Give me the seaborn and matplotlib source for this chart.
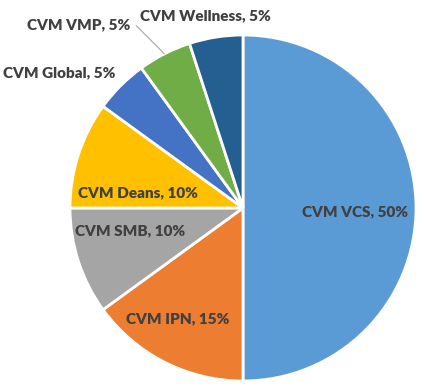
import numpy as np
import seaborn as sns
import matplotlib.pyplot as plt

# slice data, clockwise from 12 o'clock
groups = ['CVM VCS', 'CVM IPN', 'CVM SMB', 'CVM Deans', 'CVM Global', 'CVM VMP', 'CVM Wellness']
shares = [50, 15, 10, 10, 5, 5, 5]
colors = ['#5B9BD5', '#ED7D31', '#A5A5A5', '#FFC000', '#4472C4', '#70AD47', '#255E91']

# where each label sits (axes data units, pie radius = 1)
label_pos = [(0.65, -0.02), (-0.38, -0.64), (-0.65, -0.13), (-0.61, 0.09),
             (-1.06, 0.78), (-0.95, 1.06), (-0.22, 1.11)]

sns.set_theme(style='white')
plt.rcParams['font.family'] = ['Lato', 'DejaVu Sans']

fig = plt.figure(figsize=(4.24, 3.9), dpi=100)
ax = fig.add_axes([70 / 424, 9 / 390, 346 / 424, 346 / 390])

wedges, _ = ax.pie(shares, colors=colors, startangle=90, counterclock=False,
                   radius=1, wedgeprops=dict(edgecolor='white', linewidth=2))

for w, g, s, (lx, ly) in zip(wedges, groups, shares, label_pos):
    txt = f'{g}, {s}%'
    if g == 'CVM VMP':
        ang = np.deg2rad((w.theta1 + w.theta2) / 2)
        ax.annotate(txt, xy=(np.cos(ang), np.sin(ang)), xytext=(lx, ly),
                    ha='center', va='center', fontsize=11, fontweight='heavy',
                    color='#404040', annotation_clip=False,
                    arrowprops=dict(arrowstyle='-', color='#A6A6A6', lw=0.8,
                                    relpos=(1, 0.5), shrinkA=2, shrinkB=0,
                                    connectionstyle='angle,angleA=0,angleB=-45,rad=0'))
    else:
        ax.text(lx, ly, txt, ha='center', va='center', fontsize=11,
                fontweight='heavy', color='#404040', clip_on=False)

ax.set_xlim(-1, 1)
ax.set_ylim(-1, 1)
ax.set_aspect('auto')
ax.axis('off')

fig.savefig('out.png', dpi=100)
